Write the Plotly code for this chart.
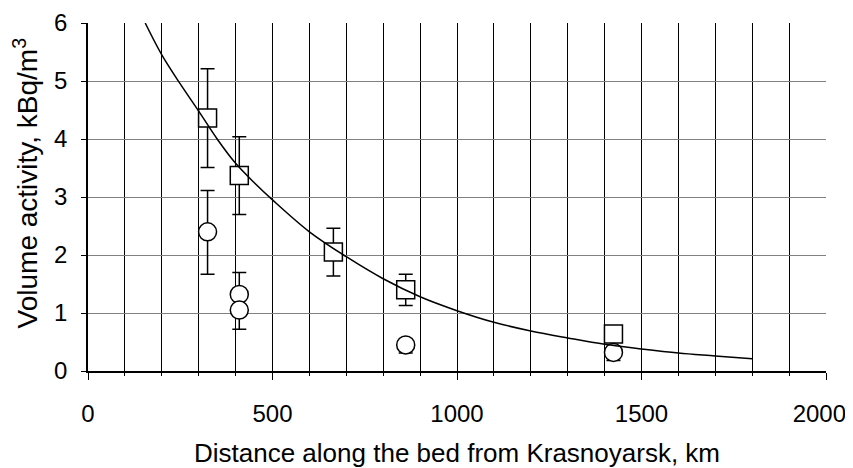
import plotly.graph_objects as go

# Squares (with error bars)
sq_x = [324, 410, 665, 861, 1424]
sq_y = [4.36, 3.37, 2.05, 1.40, 0.64]
sq_err = [0.85, 0.67, 0.41, 0.27, 0.0]

# Circles
ci_x = [324, 410, 410, 861, 1424]
ci_y = [2.40, 1.32, 1.05, 0.45, 0.32]
ci_err_plus = [0.71, 0.38, 0.0, 0.0, 0.0]
ci_err_minus = [0.73, 0.0, 0.33, 0.14, 0.14]

# Trend curve
cv_x = [155, 200, 250, 300, 350, 400, 450, 500, 600, 700, 800, 900, 1000,
        1100, 1200, 1300, 1400, 1500, 1600, 1700, 1800]
cv_y = [6.0, 5.45, 4.95, 4.48, 4.0, 3.58, 3.25, 2.95, 2.40, 1.97, 1.59, 1.28,
        1.04, 0.84, 0.69, 0.57, 0.46, 0.38, 0.31, 0.26, 0.21]

# Tick labels
x_tickvals = [0, 500, 1000, 1500, 2000]
x_ticktext = ["0", "500", "1000", "1500", "2000\u00a0\u00a0"]

FONT = "Liberation Sans, Arial, sans-serif"

fig = go.Figure()
fig.add_trace(go.Scatter(
    x=sq_x, y=sq_y, mode="markers",
    marker=dict(symbol="square", size=18, color="white",
                line=dict(color="black", width=1.5)),
    error_y=dict(type="data", array=sq_err, color="black", thickness=1.5, width=7),
    showlegend=False))
fig.add_trace(go.Scatter(
    x=ci_x, y=ci_y, mode="markers",
    marker=dict(symbol="circle", size=18, color="white",
                line=dict(color="black", width=1.5)),
    error_y=dict(type="data", array=ci_err_plus, arrayminus=ci_err_minus,
                 color="black", thickness=1.5, width=7),
    showlegend=False))
fig.add_trace(go.Scatter(
    x=cv_x, y=cv_y, mode="lines", line=dict(color="black", width=1.5, shape="spline"),
    showlegend=False))

# The page body adds an 8 px margin, so the figure is sized to fit inside it.
fig.update_layout(
    width=845, height=460,
    margin=dict(l=80, r=27, t=15, b=97),
    paper_bgcolor="white", plot_bgcolor="white",
    font=dict(family=FONT, size=24, color="black"),
    xaxis=dict(
        range=[0, 2000], tickmode="array", tickvals=x_tickvals, ticktext=x_ticktext,
        automargin=False, ticklabeloverflow="allow",
        showgrid=True, gridcolor="black", gridwidth=1,
        minor=dict(tickmode="linear", tick0=0, dtick=100, showgrid=True,
                   gridcolor="black", gridwidth=1,
                   ticks="outside", ticklen=3, tickcolor="black"),
        ticks="outside", ticklen=7, tickcolor="black", tickwidth=1,
        showline=True, linecolor="black", linewidth=2, zeroline=False,
        ticklabelstandoff=13,
        title=dict(text="Distance along the bed from Krasnoyarsk, km",
                   font=dict(size=26), standoff=19),
        tickfont=dict(size=24),
    ),
    yaxis=dict(
        range=[0, 6], tick0=0, dtick=1, automargin=False,
        showgrid=True, gridcolor="#808080", gridwidth=1,
        ticks="outside", ticklen=5, tickcolor="black",
        showline=True, linecolor="black", linewidth=1.5, zeroline=False,
        ticklabelstandoff=9,
        tickfont=dict(size=24),
    ),
    annotations=[dict(
        text="Volume activity, kBq/m<sup>3</sup>", textangle=-90,
        xref="paper", yref="paper", x=-0.084, y=0.539,
        xanchor="center", yanchor="middle", showarrow=False,
        font=dict(family=FONT, size=28, color="black"))],
)

fig.write_html("out.html")
